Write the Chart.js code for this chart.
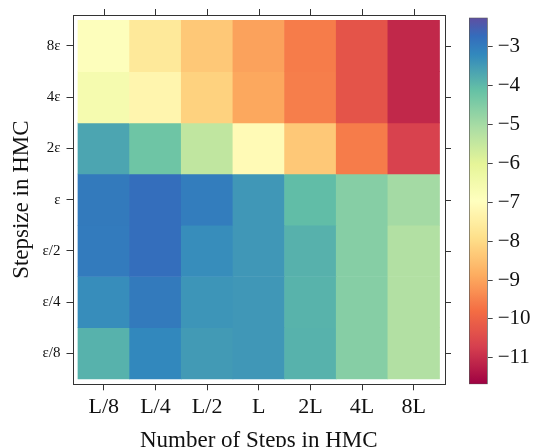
<!DOCTYPE html>
<html>
<head>
<meta charset="utf-8">
<script src="https://cdn.jsdelivr.net/npm/chart.js@4.4.1/dist/chart.umd.min.js"></script>
<style>
  html, body { margin: 0; padding: 0; background: #fff; }
  #wrap { position: relative; width: 535px; height: 447px; overflow: hidden; }
  #heat { position: absolute; left: 0; top: 0; }
  #cbar { position: absolute; left: 455px; top: 0; }
</style>
</head>
<body>
<div id="wrap">
  <canvas id="heat" width="455" height="447"></canvas>
  <canvas id="cbar" width="80" height="447"></canvas>
</div>
<script>
// Data
const stepLabels = ['L/8', 'L/4', 'L/2', 'L', '2L', '4L', '8L'];
const stepsizeLabels = ['8ε', '4ε', '2ε', 'ε', 'ε/2', 'ε/4', 'ε/8']; // top to bottom

const row8eps   = [-6.89, -7.63, -8.36, -9.02, -9.58, -10.29, -11.08];
const row4eps   = [-6.59, -7.27, -8.17, -8.94, -9.55, -10.29, -11.08];
const row2eps   = [-3.66, -4.25, -5.42, -7.12, -8.36, -9.57, -10.65];
const rowEps    = [-2.95, -2.76, -3.01, -3.44, -4.05, -4.57, -4.98];
const rowEpsHalf    = [-2.97, -2.76, -3.28, -3.44, -3.86, -4.57, -5.19];
const rowEpsQuarter = [-3.28, -2.95, -3.40, -3.44, -3.89, -4.57, -5.19];
const rowEpsEighth  = [-3.87, -3.19, -3.49, -3.44, -3.87, -4.57, -5.19];
const rows = [row8eps, row4eps, row2eps, rowEps, rowEpsHalf, rowEpsQuarter, rowEpsEighth];

const colorbarRange = [-11.68, -2.25];
const colorbarTicks = [-11, -10, -9, -8, -7, -6, -5, -4, -3];

// Spectral-like colormap [position, r, g, b]
const spectral = [
    [0.0, 158, 1, 66], [0.1, 213, 62, 79], [0.2, 244, 109, 67], [0.3, 253, 174, 97],
    [0.4, 254, 224, 139], [0.5, 255, 255, 191], [0.6, 230, 245, 152], [0.7, 171, 221, 164],
    [0.8, 102, 194, 165], [0.9, 50, 136, 189], [0.95, 52, 108, 188], [1.0, 94, 79, 162]
];

function colorFor(v) {
    let t = (v - colorbarRange[0]) / (colorbarRange[1] - colorbarRange[0]);
    t = Math.max(0, Math.min(1, t));
    let i = 0;
    while (i < spectral.length - 2 && t > spectral[i + 1][0]) i++;
    const a = spectral[i], b = spectral[i + 1];
    const f = (t - a[0]) / (b[0] - a[0]);
    const c = [1, 2, 3].map(k => Math.round(a[k] + (b[k] - a[k]) * f));
    return `rgb(${c[0]}, ${c[1]}, ${c[2]})`;
}

const serif = '"Liberation Serif", "DejaVu Serif", serif';
const frameColor = '#333';

// Frame + top/right ticks
const framePlugin = {
    id: 'frame',
    afterDraw(chart) {
        const { ctx, chartArea: a, scales } = chart;
        ctx.save();
        ctx.strokeStyle = frameColor;
        ctx.lineWidth = 1;
        ctx.strokeRect(Math.round(a.left) + 0.5, Math.round(a.top) + 0.5,
            Math.round(a.right) - Math.round(a.left), Math.round(a.bottom) - Math.round(a.top));
        ctx.beginPath();
        scales.x.ticks.forEach(t => {
            const px = Math.round(scales.x.getPixelForValue(t.value)) + 0.5;
            ctx.moveTo(px, Math.round(a.top));
            ctx.lineTo(px, Math.round(a.top) - 6);
        });
        scales.y.ticks.forEach(t => {
            const py = Math.round(scales.y.getPixelForValue(t.value)) + 0.5;
            ctx.moveTo(Math.round(a.right), py);
            ctx.lineTo(Math.round(a.right) + 6, py);
        });
        ctx.stroke();
        ctx.restore();
    }
};

const datasets = rows.map((vals, r) => ({
    label: stepsizeLabels[r],
    data: vals.map((v, c) => ({ x: c, y: [rows.length - 1 - r, rows.length - r] })),
    backgroundColor: vals.map(colorFor),
    borderWidth: 0,
    grouped: false,
    barPercentage: 1,
    categoryPercentage: 1
}));

new Chart(document.getElementById('heat').getContext('2d'), {
    type: 'bar',
    data: { datasets },
    options: {
        responsive: false,
        animation: false,
        devicePixelRatio: 1,
        layout: { padding: { left: 0, top: 12.5, right: 10, bottom: 0 } },
        plugins: { legend: { display: false }, tooltip: { enabled: false } },
        scales: {
            x: {
                type: 'linear',
                offset: false,
                min: -0.606,
                max: stepLabels.length - 1 + 0.606,
                afterBuildTicks: s => { s.ticks = stepLabels.map((_, i) => ({ value: i })); },
                afterFit: s => { s.height = 62.7; },
                grid: { offset: false, drawOnChartArea: false, drawTicks: true, tickLength: 6, color: frameColor },
                border: { display: false },
                ticks: {
                    callback: v => stepLabels[v],
                    font: { family: serif, size: 22 },
                    color: '#111',
                    padding: 3.4,
                    maxRotation: 0
                },
                title: {
                    display: true,
                    text: 'Number of Steps in HMC',
                    font: { family: serif, size: 23 },
                    color: '#111',
                    padding: { top: 0, bottom: -7.5 }
                }
            },
            y: {
                type: 'linear',
                min: -0.105,
                max: stepsizeLabels.length + 0.105,
                afterBuildTicks: s => { s.ticks = stepsizeLabels.map((_, i) => ({ value: i + 0.5 })); },
                afterFit: s => { s.width = 72.5; },
                grid: { drawOnChartArea: false, drawTicks: true, tickLength: 6, color: frameColor },
                border: { display: false },
                ticks: {
                    callback: v => stepsizeLabels[stepsizeLabels.length - 1 - Math.floor(v)],
                    font: { family: serif, size: 15 },
                    color: '#111',
                    padding: 6
                },
                title: {
                    display: true,
                    text: 'Stepsize in HMC',
                    font: { family: serif, size: 23 },
                    color: '#111',
                    padding: { top: 7.7, bottom: 0 }
                }
            }
        }
    },
    plugins: [framePlugin]
});

// Colorbar
function colorbarFill(context) {
    const chart = context.chart;
    const { ctx, chartArea, scales } = chart;
    if (!chartArea) return colorFor(colorbarRange[0]);
    const y0 = scales.y.getPixelForValue(colorbarRange[0]);
    const y1 = scales.y.getPixelForValue(colorbarRange[1]);
    const g = ctx.createLinearGradient(0, y0, 0, y1);
    const n = 80;
    for (let i = 0; i <= n; i++) {
        const v = colorbarRange[0] + (colorbarRange[1] - colorbarRange[0]) * i / n;
        g.addColorStop(i / n, colorFor(v));
    }
    return g;
}

new Chart(document.getElementById('cbar').getContext('2d'), {
    type: 'bar',
    data: {
        labels: ['cb'],
        datasets: [{
            data: [colorbarRange],
            backgroundColor: colorbarFill,
            borderColor: '#555',
            borderWidth: 1,
            borderSkipped: false,
            barPercentage: 1,
            categoryPercentage: 1
        }]
    },
    options: {
        responsive: false,
        animation: false,
        devicePixelRatio: 1,
        layout: { padding: { left: 14, top: 12.5, right: 0, bottom: 62.7 } },
        plugins: { legend: { display: false }, tooltip: { enabled: false } },
        scales: {
            x: { display: false },
            y: {
                position: 'right',
                min: colorbarRange[0],
                max: colorbarRange[1],
                afterBuildTicks: s => { s.ticks = colorbarTicks.map(v => ({ value: v })); },
                afterFit: s => { s.width = 47.3; },
                grid: { drawOnChartArea: false, drawTicks: true, tickLength: 5, color: '#444' },
                border: { display: false },
                ticks: {
                    callback: v => (v < 0 ? '\u2212' + Math.abs(v) : String(v)),
                    font: { family: serif, size: 21 },
                    color: '#111',
                    padding: 5
                }
            }
        }
    }
});
</script>
</body>
</html>
